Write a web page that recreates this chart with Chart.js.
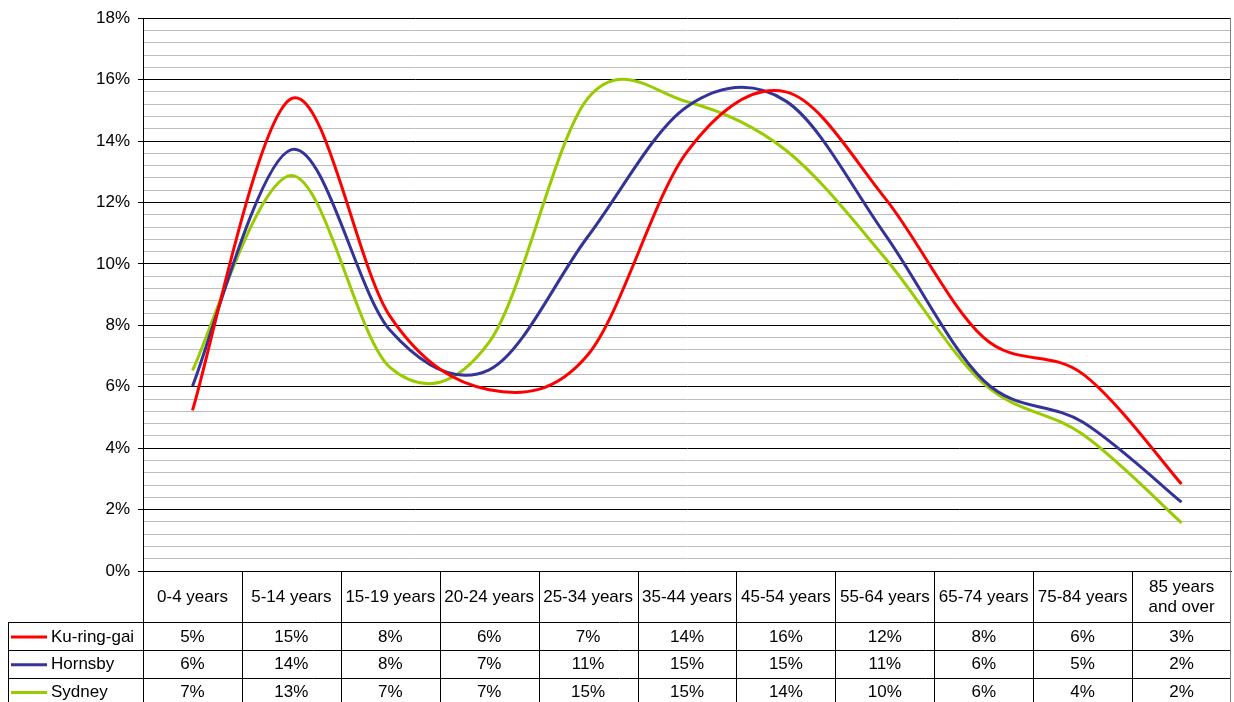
<!DOCTYPE html>
<html>
<head>
<meta charset="utf-8">
<title>Age structure – Ku-ring-gai, Hornsby and Sydney</title>
<style>
  html, body { margin: 0; padding: 0; background: #ffffff; }
  #wrap { width: 1234px; height: 702px; position: relative; overflow: hidden; }
  canvas { display: block; }
</style>
<script src="https://cdn.jsdelivr.net/npm/chart.js@4.4.1/dist/chart.umd.min.js"></script>
</head>
<body>
<div id="wrap"><canvas id="chart" width="1234" height="702"></canvas></div>
<script>
// Age groups (x categories)
const categories = ['0-4 years', '5-14 years', '15-19 years', '20-24 years', '25-34 years',
  '35-44 years', '45-54 years', '55-64 years', '65-74 years', '75-84 years', ['85 years', 'and over']];

// Share of population in each age group, per cent
const kuringgai = [5.23, 15.38, 8.28, 5.9, 7.05, 13.65, 15.6, 12.15, 7.6, 6.42, 2.83];
const hornsby   = [6.02, 13.72, 7.83, 6.55, 10.9, 15.12, 15.3, 10.97, 6.2, 4.85, 2.24];
const sydney    = [6.53, 12.88, 6.62, 7.45, 15.4, 15.28, 13.7, 10.2, 6.1, 4.45, 1.57];

const seriesNames  = ['Ku-ring-gai', 'Hornsby', 'Sydney'];
const seriesColors = ['#ff0000', '#333399', '#99cc00'];

// Value axis: labelled major ticks and the finer minor grid step
const yMajorTicks = [0, 2, 4, 6, 8, 10, 12, 14, 16, 18];
const yMinorStep = 0.4;

const FONT = "'Liberation Sans', Arial, sans-serif";
const isMajor = v => yMajorTicks.some(m => Math.abs(m - v) < 1e-6);

// Excel-like smoothing: Catmull-Rom control points from the scaled point positions
const smoothLines = {
  id: 'smoothLines',
  beforeDatasetDraw(chart, args) {
    const meta = args.meta;
    const line = meta.dataset;
    if (!line || typeof line.updateControlPoints !== 'function') return;
    line.updateControlPoints(chart.chartArea, meta.iScale.axis);
    const pts = meta.data;
    for (let i = 0; i < pts.length; i++) {
      const p = pts[i];
      const prev = pts[i - 1] || p;
      const next = pts[i + 1] || p;
      const dx = (next.x - prev.x) / 6;
      const dy = (next.y - prev.y) / 6;
      p.cp1x = p.x - dx; p.cp1y = p.y - dy;
      p.cp2x = p.x + dx; p.cp2y = p.y + dy;
    }
    line._path = undefined;
  }
};

// Data table under the plot: category header, legend keys and rounded values
const dataTable = {
  id: 'dataTable',
  afterDraw(chart) {
    const { ctx, chartArea: a, scales: { x } } = chart;
    const n = categories.length;
    const colW = (a.right - a.left) / n;
    const headerBottom = 622;
    const rowH = 27.8;
    const rows = [kuringgai, hornsby, sydney];
    const tableLeft = 8;
    const bottom = 702;
    const px = v => Math.round(v) + 0.5;

    ctx.save();
    ctx.lineWidth = 1;
    ctx.strokeStyle = '#000000';

    // horizontal rules
    ctx.beginPath();
    for (let r = 0; r <= rows.length; r++) {
      const y = px(headerBottom + r * rowH);
      ctx.moveTo(tableLeft, y);
      ctx.lineTo(a.right, y);
    }
    // left edge of the series-name column
    ctx.moveTo(px(tableLeft), headerBottom);
    ctx.lineTo(px(tableLeft), bottom);
    // column dividers below the axis
    for (let k = 0; k < n; k++) {
      const xx = px(a.left + k * colW);
      ctx.moveTo(xx, a.bottom);
      ctx.lineTo(xx, bottom);
    }
    ctx.stroke();

    // right edge of plot and table
    ctx.strokeStyle = '#808080';
    ctx.beginPath();
    ctx.moveTo(px(a.right) - 1, a.top);
    ctx.lineTo(px(a.right) - 1, bottom);
    ctx.stroke();

    ctx.fillStyle = '#000000';
    ctx.font = '17px ' + FONT;
    ctx.textAlign = 'center';
    ctx.textBaseline = 'middle';

    // category header
    categories.forEach((c, i) => {
      const cx = x.getPixelForValue(i);
      if (Array.isArray(c)) {
        ctx.fillText(c[0], cx, 587);
        ctx.fillText(c[1], cx, 607);
      } else {
        ctx.fillText(c, cx, 597);
      }
    });

    // series rows
    rows.forEach((vals, r) => {
      const cy = headerBottom + r * rowH + rowH / 2 + 1;
      ctx.strokeStyle = seriesColors[r];
      ctx.lineWidth = 3;
      ctx.beginPath();
      ctx.moveTo(11, cy);
      ctx.lineTo(47, cy);
      ctx.stroke();
      ctx.textAlign = 'left';
      ctx.fillText(seriesNames[r], 51, cy);
      ctx.textAlign = 'center';
      vals.forEach((v, i) => {
        ctx.fillText(Math.round(v) + '%', x.getPixelForValue(i), cy);
      });
    });
    ctx.restore();
  }
};

const datasets = [kuringgai, hornsby, sydney].map((vals, i) => ({
  label: seriesNames[i],
  data: vals,
  borderColor: seriesColors[i],
  backgroundColor: seriesColors[i],
  borderWidth: 3,
  pointRadius: 0,
  pointHoverRadius: 0,
  tension: 0.4,
  fill: false,
  clip: false
}));

new Chart(document.getElementById('chart'), {
  type: 'line',
  data: { labels: categories, datasets },
  plugins: [smoothLines, dataTable],
  options: {
    responsive: false,
    animation: false,
    devicePixelRatio: 1,
    layout: { padding: { top: 17, right: 3, left: 0, bottom: 0 } },
    plugins: { legend: { display: false }, tooltip: { enabled: false } },
    elements: { line: { borderJoinStyle: 'round', borderCapStyle: 'butt', capBezierPoints: false } },
    scales: {
      x: {
        type: 'category',
        offset: true,
        grid: { display: false, drawTicks: false },
        border: { display: true, color: '#000000', width: 1 },
        ticks: { display: false },
        afterFit: s => { s.height = 131; }
      },
      y: {
        type: 'linear',
        min: 0,
        max: 18,
        afterBuildTicks: s => {
          const count = Math.round((s.max - s.min) / yMinorStep);
          const t = [];
          for (let i = 0; i <= count; i++) t.push({ value: +(s.min + i * yMinorStep).toFixed(1) });
          s.ticks = t;
        },
        grid: {
          color: c => (c.tick && isMajor(c.tick.value)) ? '#000000' : '#bdbdbd',
          tickColor: c => (c.tick && isMajor(c.tick.value)) ? '#000000' : 'rgba(0,0,0,0)',
          tickLength: 5,
          lineWidth: 1
        },
        border: { display: true, color: '#000000', width: 1 },
        ticks: {
          autoSkip: false,
          padding: 8,
          color: '#000000',
          font: { family: FONT, size: 17 },
          callback: v => isMajor(v) ? Math.round(v) + '%' : ''
        },
        afterFit: s => { s.width = 143; }
      }
    }
  }
});
</script>
</body>
</html>
